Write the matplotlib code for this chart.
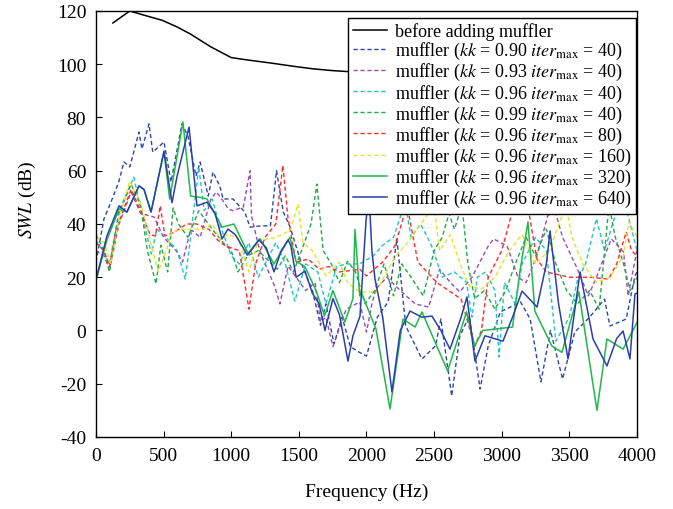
import matplotlib
matplotlib.use("Agg")
import matplotlib.pyplot as plt
import numpy as np

plt.rcParams['font.family'] = ['Liberation Serif', 'DejaVu Serif']
plt.rcParams['mathtext.fontset'] = 'stix'
plt.rcParams['axes.unicode_minus'] = False

# before adding muffler
f_before = [125, 250, 350, 490, 600, 700, 850, 1000, 1120, 1300, 1450, 1600, 1750,
            2000, 2500, 3000, 3500, 3800, 3900, 3950, 4000]
v_before = [115.5, 120, 118.5, 116.5, 114, 111.3, 106.5, 102.5, 101.6, 100.4, 99.3, 98.3, 97.6,
            96.8, 95, 93.5, 92, 90.5, 89, 88.3, 88]

# kk = 0.90, itermax = 40
f_090 = [0, 59, 125, 170, 207, 250, 318, 340, 392, 420, 503, 555, 636, 680, 740, 770, 830, 865, 915,
         940, 1013, 1100, 1139, 1220, 1290, 1335, 1385, 1434, 1520, 1600, 1660, 1700, 1760, 1820,
         1880, 1940, 2000, 2080, 2160, 2225, 2290, 2410, 2510, 2550, 2630, 2690, 2760, 2840, 2900,
         2990, 3140, 3210, 3290, 3360, 3450, 3540, 3650, 3760, 3800, 3920, 3985, 4000]
v_090 = [25.7, 41.9, 50, 56.1, 63.3, 61.4, 74.5, 68.2, 77.6, 67, 70.8, 55.8, 77.6, 73, 58, 63.3,
         50.5, 59.5, 54.3, 49.4, 49.4, 44.5, 38.8, 39.3, 39.3, 60, 44.5, 39, 25, 15, 2, 10, -5, 5,
         -6, -8, -9.6, 5, 10.7, 34.4, 1.7, -10.7, -5.8, 4.3, -24.6, -2.1, 5.4, -22, -5.8,
         7, 10.7, 4.3, -19.3, 0, -18.2, -0.6, 5, 11.8, 1.7, 4.3, 20.5, 22]

# kk = 0.93, itermax = 40
f_093 = [0, 60, 100, 170, 260, 330, 430, 500, 600, 640, 700, 770, 850, 890, 930, 980, 1013, 1090,
         1139, 1150, 1210, 1320, 1360, 1420, 1480, 1550, 1620, 1660, 1700, 1752, 1850, 1950, 2000,
         2040, 2070, 2150, 2250, 2360, 2460, 2540, 2620, 2690, 2780, 2900, 2940, 3040, 3120, 3180,
         3260, 3340, 3390, 3450, 3560, 3640, 3700, 3810, 3900, 3935, 3980, 4000]
v_093 = [30, 28, 23, 40, 52, 44, 42.6, 35, 29.5, 25.7, 38, 35, 49.4, 52, 49.4, 45.6, 45, 46.4,
         60, 43, 30, 16.7, 10, 24.2, 20, 15, 18, 3.2, 5, -6, 8, 10.7, -0.6,
         10, 15.6, 20, 15, 10, 8.8, 23, 18, 14.5, 20, 31.7, 34.4, 31.7, 20, 18,
         28, 43, 45.6, 35, 23, 13, 20, 34.4, 29.5, 13, 25, 30]

# kk = 0.96, itermax = 40
f_096 = [0, 50, 100, 170, 280, 330, 380, 410, 450, 520, 600, 660, 700, 760, 800, 860, 900, 950,
         1000, 1060, 1130, 1200, 1260, 1330, 1400, 1470, 1550, 1640, 1700, 1780, 1850, 1950, 2050,
         2120, 2200, 2285, 2330, 2400, 2480, 2560, 2650, 2740, 2780, 2820, 2880, 2950, 2980, 3020,
         3100, 3150, 3250, 3330, 3400, 3500, 3560, 3620, 3700, 3760, 3850, 3900, 3950, 4000]
v_096 = [34, 30, 25, 45, 57.6, 46, 35, 28.7, 38, 35, 30, 19.3, 35, 61.4, 45, 49.4, 42, 35,
         28, 25, 33, 20, 26, 33, 25, 11, 25, 22, 10, 24, 25, 25, 28,
         32, 35, 48, 35, 40, 32, 20, 22, 18, 5, 20, 22, 15, -10, 18,
         10, 25, 35, 30, -4, 5, 19, 25, 42, 30, 45, 50, 40, 30]

# kk = 0.99, itermax = 40
f_099 = [0, 60, 100, 170, 260, 330, 380, 444, 480, 530, 570, 610, 680, 760, 860, 940, 1000, 1050,
         1120, 1200, 1280, 1340, 1400, 1460, 1520, 1590, 1633, 1680, 1740, 1800, 1860, 1920, 1990,
         2060, 2130, 2200, 2260, 2330, 2420, 2500, 2560, 2610, 2650, 2706, 2750, 2800, 2870, 2950,
         3030, 3100, 3180, 3250, 3330, 3400, 3480, 3560, 3650, 3720, 3793, 3840, 3900, 3950, 4000]
v_099 = [36, 30, 22, 44, 55, 47, 30, 17.5, 32, 22, 46, 40, 35, 45, 38, 33, 30, 22,
         28, 30, 26, 23, 28, 22, 30, 40, 55, 30, 25, 18, 26, 22, 10,
         15, 25, 13, 25, 20, 13, 30, 35, 44, 38, 47, 25, 12, 15, 8,
         15, 25, 35, 28, 38, 25, 15, 10, 15, 8, 47, 35, 25, 15, 20]

# kk = 0.96, itermax = 80
f_80 = [0, 60, 100, 150, 260, 330, 400, 440, 475, 510, 580, 670, 745, 835, 900, 950, 1000, 1060,
        1131, 1180, 1250, 1330, 1382, 1420, 1480, 1570, 1650, 1720, 1800, 1950, 2000, 2120, 2210,
        2300, 2380, 2520, 2700, 2800, 2850, 2900, 3000, 3080, 3195, 3260, 3330, 3500, 3650, 3790,
        3850, 3920, 3960, 4000]
v_80 = [33, 30, 24, 38, 53, 45, 36, 35.5, 46.8, 35.5, 37, 40, 40, 38, 34, 32, 31, 30,
        8, 25, 35, 40, 62, 42, 25.7, 26.8, 23, 24, 22, 23, 20.5, 25.7, 31.7,
        47, 25.7, 18, 11.8, -6, 0, 20, 30, 45, 46, 26.8, 22, 20, 20, 19.3,
        25, 37, 30, 28]

# kk = 0.96, itermax = 160
f_160 = [0, 60, 110, 170, 250, 330, 400, 460, 520, 560, 640, 720, 800, 860, 920, 970, 1050, 1130,
         1200, 1290, 1380, 1440, 1494, 1530, 1600, 1700, 1800, 1860, 1950, 2070, 2200, 2320, 2500,
         2540, 2620, 2700, 2760, 2850, 2950, 3050, 3150, 3250, 3350, 3475, 3520, 3600, 3700, 3800,
         3900, 3940, 4000]
v_160 = [35, 33, 25, 42, 56, 48, 34, 22, 30, 37, 38, 38, 38, 40, 34, 36, 35, 22,
         34, 34.4, 36, 38, 47.5, 33, 30, 20.5, 25.7, 18, 14.5, 14.5, 26.8, 34, 47,
         30, 36, 24, 16.7, 15.6, 20, 29.5, 36, 25, 30, 47, 35, 25, 18, 20,
         28, 40.8, 35]

# kk = 0.96, itermax = 320
f_320 = [0, 7, 81, 170, 229, 318, 355, 407, 503, 545, 643, 700, 770, 821, 932, 1020, 1124, 1213,
         1316, 1434, 1479, 1545, 1627, 1690, 1752, 1840, 1900, 1915, 1950, 1960, 2070, 2174, 2270,
         2360, 2410, 2600, 2740, 2800, 2860, 3080, 3135, 3194, 3245, 3370, 3445, 3570, 3704, 3778,
         3897, 3963, 4000]
v_320 = [19, 20, 34, 45.6, 44.5, 54.3, 53, 44.5, 67, 49.4, 78.3, 50.5, 50, 49.4, 38.8, 40, 29, 34.5,
         25, 35, 26, 24, 15, 5.5, 15, 3.2, 12, 38, 13, 14.5, 0.6, -29.5, 4.3,
         1.3, 7, -15.2, 7, -5.8, 0, 1.3, 22.3, 40.8, 7.3, -5.8, -8.2, 14.5, -30, -3.2,
         -7, -0.6, 3]

# kk = 0.96, itermax = 640
f_640 = [0, 7, 81, 170, 229, 318, 355, 407, 503, 540, 562, 600, 688, 747, 821, 880, 932, 976,
         1030, 1120, 1205, 1260, 1316, 1370, 1420, 1440, 1480, 1545, 1600, 1650, 1693, 1752, 1800,
         1863, 1900, 1952, 1996, 2018, 2040, 2063, 2120, 2188, 2250, 2322, 2410, 2484, 2550, 2617,
         2700, 2743, 2802, 2876, 3009, 3080, 3150, 3261, 3330, 3357, 3420, 3490, 3579, 3675, 3778,
         3850, 3897, 3948, 3985, 4000]
v_640 = [19, 20.5, 35.5, 46.8, 44.5, 54.3, 53, 44.5, 67.4, 55, 48, 58, 76.4, 46.8, 48.2, 44, 34.4, 38.1,
         36, 28.3, 34, 31, 22, 30, 34, 32, 20, 22.3, 14, 10, 0, 12, 6,
         -11.5, -2, 5.4, 40.8, 52, 30, 19.3, 5, -23, 0, 7.3, 5, 5.4, 0, -7,
         5, 12.6, -11.5, -2, -4, 5, 14.8, 8.8, 25, 37.4, 10, -10.7, 22, -3.2, -13.3,
         -3, -0.2, -10.7, 13.7, 14]

labels = [
    'before adding muffler',
    r'muffler ($kk$ = 0.90 $iter_{\rm max}$ = 40)',
    r'muffler ($kk$ = 0.93 $iter_{\rm max}$ = 40)',
    r'muffler ($kk$ = 0.96 $iter_{\rm max}$ = 40)',
    r'muffler ($kk$ = 0.99 $iter_{\rm max}$ = 40)',
    r'muffler ($kk$ = 0.96 $iter_{\rm max}$ = 80)',
    r'muffler ($kk$ = 0.96 $iter_{\rm max}$ = 160)',
    r'muffler ($kk$ = 0.96 $iter_{\rm max}$ = 320)',
    r'muffler ($kk$ = 0.96 $iter_{\rm max}$ = 640)',
]

series = [(f_before, v_before), (f_090, v_090), (f_093, v_093), (f_096, v_096), (f_099, v_099),
          (f_80, v_80), (f_160, v_160), (f_320, v_320), (f_640, v_640)]
colors = ['black', '#2f45a8', '#9a4ab8', '#22c4c8', '#22a848', '#ff2a2a', '#e6e22a', '#1fb84a', '#2a40a8']
styles = ['-', '--', '--', '--', '--', '--', '--', '-', '-']

fig = plt.figure(figsize=(6.73, 5.10), dpi=100)
ax = fig.add_axes([0.1426, 0.1412, 0.8039, 0.8353])

for (f, v), c, ls, lab in zip(series, colors, styles, labels):
    if ls == '--':
        ax.plot(f, v, color=c, linestyle=(0, (3, 2)), linewidth=1.0, label=lab)
    else:
        ax.plot(f, v, color=c, linestyle='-', linewidth=1.1, label=lab)

ax.set_xlim(0, 4000)
ax.set_ylim(-40, 120)
ax.set_xticks(np.arange(0, 4001, 500))
ax.set_yticks(np.arange(-40, 121, 20))
ax.tick_params(direction='in', length=4, labelsize=14, pad=7, top=False, right=False)
ax.set_xlabel('Frequency (Hz)', fontsize=14, labelpad=14)
ax.set_ylabel(r'$SWL$ (dB)', fontsize=14)
ax.yaxis.set_label_coords(-0.108, 0.56)
for s in ax.spines.values():
    s.set_linewidth(1.0)

leg = ax.legend(loc='upper right', bbox_to_anchor=(0.999, 0.984), fontsize=13, frameon=True,
                fancybox=False, framealpha=1, edgecolor='black', handlelength=1.9,
                handletextpad=0.45, borderpad=0.25, labelspacing=0.0, borderaxespad=0.0)
leg.get_frame().set_linewidth(1.0)

fig.savefig('out.png', dpi=100)
